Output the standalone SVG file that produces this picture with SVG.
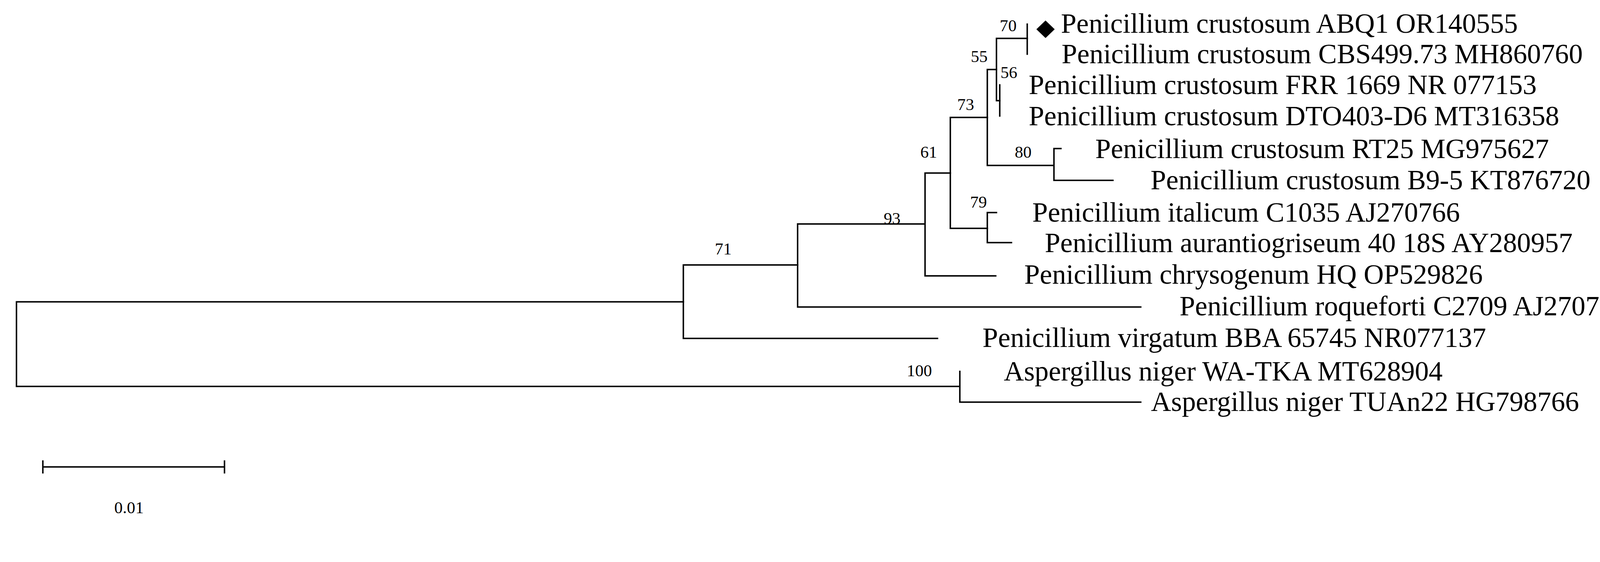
<svg xmlns="http://www.w3.org/2000/svg" width="4373" height="1440" viewBox="0 0 4373 1440">
<style>
.b{stroke:#000;stroke-width:4;fill:none;stroke-linecap:square}
.t{font-family:"Liberation Serif",serif;font-size:76px;fill:#000}
.s{font-family:"Liberation Serif",serif;font-size:46px;fill:#000}
</style>
<rect width="4373" height="1440" fill="#fff"/>
<g transform="scale(0.9375)">
<g id="connectors">
<path class="b" d="M45,825V1056 M45,825H1866 M45,1056H2621"/>
<path class="b" d="M1866,724V925 M1866,724H2178 M1866,925H2560"/>
<path class="b" d="M2178,612V839 M2178,612H2526 M2178,839H3115"/>
<path class="b" d="M2526,473V754 M2526,473H2595 M2526,754H2719"/>
<path class="b" d="M2595,321V624 M2595,321H2696 M2595,624H2696"/>
<path class="b" d="M2696,190V452 M2696,190H2721 M2696,452H2878"/>
<path class="b" d="M2721,105V275 M2721,105H2805 M2721,275H2730"/>
<path class="b" d="M2805,66V148"/>
<path class="b" d="M2730,232V317"/>
<path class="b" d="M2878,406V493 M2878,406H2897 M2878,493H3039"/>
<path class="b" d="M2696,581V663 M2696,581H2721 M2696,663H2762"/>
<path class="b" d="M2621,1015V1099 M2621,1099H3115"/>
<path class="b" d="M117,1276H613 M117,1260V1292 M613,1260V1292"/>
</g>
<g id="labels">
<text class="s" x="2730" y="85">70</text>
<text class="s" x="2651" y="170">55</text>
<text class="s" x="2732" y="213">56</text>
<text class="s" x="2614" y="301">73</text>
<text class="s" x="2513" y="431">61</text>
<text class="s" x="2771" y="431">80</text>
<text class="s" x="2649" y="567">79</text>
<text class="s" x="2413" y="612">93</text>
<text class="s" x="1952" y="696">71</text>
<text class="s" x="2476" y="1028">100</text>
<text class="s" x="312" y="1403">0.01</text>
</g>
<g id="tip-ABQ1"><polygon points="2855,56 2880,80 2855,104 2830,80" fill="#000"/><text class="t" x="2897" y="90">Penicillium crustosum ABQ1 OR140555</text></g>
<g id="tip-CBS"><text class="t" x="2899" y="173">Penicillium crustosum CBS499.73 MH860760</text></g>
<g id="tip-FRR"><text class="t" x="2809" y="257">Penicillium crustosum FRR 1669 NR 077153</text></g>
<g id="tip-DTO"><text class="t" x="2809" y="342">Penicillium crustosum DTO403-D6 MT316358</text></g>
<g id="tip-RT25"><text class="t" x="2991" y="432">Penicillium crustosum RT25 MG975627</text></g>
<g id="tip-B95"><text class="t" x="3142" y="517">Penicillium crustosum B9-5 KT876720</text></g>
<g id="tip-italicum"><text class="t" x="2819" y="606">Penicillium italicum C1035 AJ270766</text></g>
<g id="tip-aurantio"><text class="t" x="2853" y="689">Penicillium aurantiogriseum 40 18S AY280957</text></g>
<g id="tip-chryso"><text class="t" x="2797" y="776">Penicillium chrysogenum HQ OP529826</text></g>
<g id="tip-roque"><text class="t" x="3221" y="862">Penicillium roqueforti C2709 AJ270764</text></g>
<g id="tip-virg"><text class="t" x="2683" y="948">Penicillium virgatum BBA 65745 NR077137</text></g>
<g id="tip-WATKA"><text class="t" x="2741" y="1040">Aspergillus niger WA-TKA MT628904</text></g>
<g id="tip-TUAn22"><text class="t" x="3143" y="1123">Aspergillus niger TUAn22 HG798766</text></g>
</g>
</svg>
